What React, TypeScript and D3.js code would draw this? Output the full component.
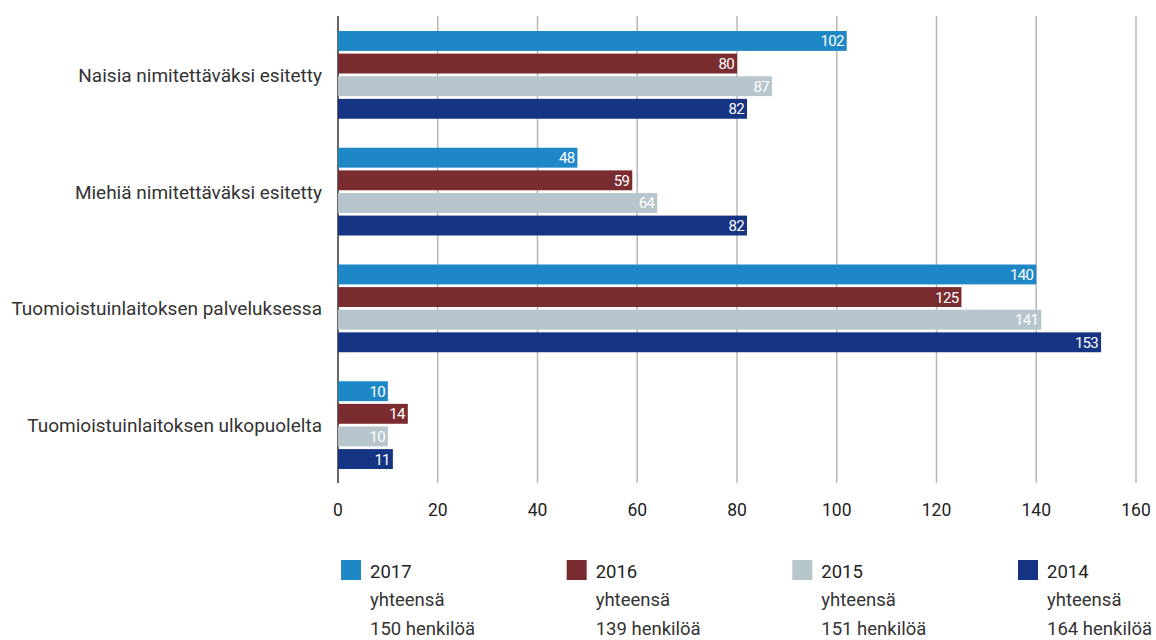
import React from "react";
import * as d3 from "d3";

const categories = [
  "Naisia nimitettäväksi esitetty",
  "Miehiä nimitettäväksi esitetty",
  "Tuomioistuinlaitoksen palveluksessa",
  "Tuomioistuinlaitoksen ulkopuolelta",
];
const years = ["2017", "2016", "2015", "2014"];
const values2017 = [102, 48, 140, 10];
const values2016 = [80, 59, 125, 14];
const values2015 = [87, 64, 141, 10];
const values2014 = [82, 82, 153, 11];
const totals = ["150", "139", "151", "164"];
const colors = ["#1e88c7", "#7a2c30", "#b7c5cc", "#153483"];
const xTicks = [0, 20, 40, 60, 80, 100, 120, 140, 160];

const series = [values2017, values2016, values2015, values2014];

export default function App() {
  const W = 1156, H = 640;
  const x = d3.scaleLinear().domain([0, 160]).range([338, 1136]);
  const yOuter = d3.scaleBand<string>().domain(categories).range([16, 483]).padding(0);
  const bw = yOuter.bandwidth();
  const yInner = d3
    .scaleBand<string>()
    .domain(years)
    .range([15, bw - 14])
    .paddingInner(0.12)
    .paddingOuter(0);
  const font = "Roboto, 'Liberation Sans', sans-serif";
  const legendX = d3.scalePoint<string>().domain(years).range([341, 1018]);

  return (
    <svg width={W} height={H} style={{ position: "absolute", left: 0, top: 0, background: "#fff" }} fontFamily={font}>
      {xTicks.map((t) => (
        <g key={t}>
          <line
            x1={x(t)}
            x2={x(t)}
            y1={16}
            y2={483}
            stroke={t === 0 ? "#333" : "#b8b8b8"}
            strokeWidth={1.5}
          />
          <text x={x(t)} y={516} textAnchor="middle" fontSize={17.5} fill="#222">
            {t}
          </text>
        </g>
      ))}
      {categories.map((c, ci) => {
        const g0 = yOuter(c)!;
        return (
          <g key={c}>
            <text
              x={322}
              y={g0 + 15 + (bw - 29) / 2 + 7}
              textAnchor="end"
              fontSize={19}
              fill="#333"
            >
              {c}
            </text>
            {years.map((yr, si) => {
              const v = series[si][ci];
              const y0 = g0 + yInner(yr)!;
              return (
                <g key={yr}>
                  <rect x={x(0)} y={y0} width={x(v) - x(0)} height={yInner.bandwidth()} fill={colors[si]} />
                  <text
                    x={x(v) - 3}
                    y={y0 + yInner.bandwidth() / 2 + 5.5}
                    textAnchor="end"
                    fontSize={15}
                    letterSpacing={-0.7}
                    fill="#fff"
                  >
                    {v}
                  </text>
                </g>
              );
            })}
          </g>
        );
      })}
      {years.map((yr, i) => {
        const lx = legendX(yr)!;
        return (
          <g key={yr}>
            <rect x={lx} y={560} width={20} height={20} fill={colors[i]} />
            <text x={lx + 29} y={578} fontSize={18.5} fill="#222">
              {yr}
            </text>
            <text x={lx + 29} y={606} fontSize={18.5} fill="#333">
              yhteensä
            </text>
            <text x={lx + 29} y={635} fontSize={18.5} fill="#333">
              {totals[i]} henkilöä
            </text>
          </g>
        );
      })}
    </svg>
  );
}
